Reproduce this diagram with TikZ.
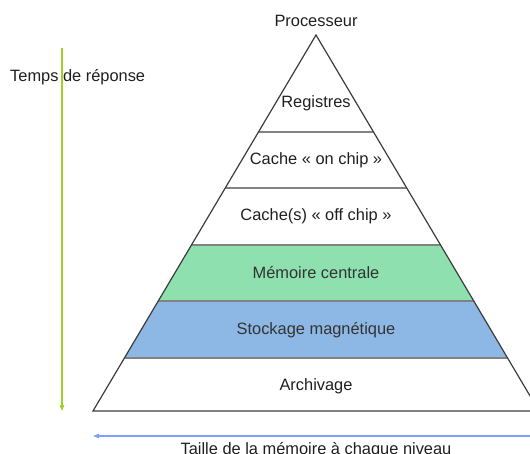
\documentclass[tikz,border=0pt]{standalone}
\usepackage{fontspec}
\setmainfont{Liberation Sans}
\usetikzlibrary{arrows.meta}
\definecolor{memgreen}{RGB}{142,224,174}
\definecolor{diskblue}{RGB}{141,183,228}
\definecolor{timegreen}{RGB}{160,208,40}
\definecolor{sizeblue}{RGB}{125,160,250}
\definecolor{edgegray}{RGB}{60,60,60}
\definecolor{sepgray}{RGB}{130,130,130}
\begin{document}
\begin{tikzpicture}[x=1pt,y=-1pt,
  lbl/.style={font=\fontsize{16.4}{19}\selectfont, text=black!88, inner sep=0pt},
  sep/.style={draw=sepgray, line width=1.2pt},
  outline/.style={draw=edgegray, line width=1.2pt, line join=miter},
  axis/.style={line width=1.2pt, -{Triangle[length=6pt,width=4.5pt]}}]
\useasboundingbox (0,0) rectangle (530,454);
\clip (0,0) rectangle (530,454);

% pyramid corners
\coordinate (apex) at (316,35);
\coordinate (bl) at (93,411);
\coordinate (br) at (539,411);

% coloured levels and separators, cut to the triangle
\begin{scope}
  \clip (apex) -- (bl) -- (br) -- cycle;
  \fill[memgreen] (80,245) rectangle (560,301);
  \fill[diskblue] (80,301) rectangle (560,358);
  \foreach \y in {132,188,245,301,358}
    \draw[sep] (80,\y) -- (560,\y);
\end{scope}
\draw[outline] (apex) -- (bl) -- (br) -- cycle;

% level labels
\node[lbl] (reg)  at (316,103) {Registres};
\node[lbl] (l1)   at (316,160) {Cache «~on chip~»};
\node[lbl] (l2)   at (316,216) {Cache(s) «~off chip~»};
\node[lbl, text=black!80] (ram)  at (316,273) {Mémoire centrale};
\node[lbl, text=black!80] (disk) at (316,330) {Stockage magnétique};
\node[lbl] (arch) at (316,386) {Archivage};
\node[lbl] (cpu)  at (316,21)  {Processeur};

% response time axis
\coordinate (ttop) at (62,48);
\coordinate (tbot) at (62,411);
\draw[axis, timegreen] (ttop) -- (tbot);
\node[lbl, anchor=west] (tlabel) at (10,77) {Temps de réponse};

% memory size axis
\coordinate (sright) at (531,436);
\coordinate (sleft) at (93,436);
\draw[axis, sizeblue] (sright) -- (sleft);
\node[lbl] (slabel) at (316,450) {Taille de la mémoire à chaque niveau};
\end{tikzpicture}
\end{document}
